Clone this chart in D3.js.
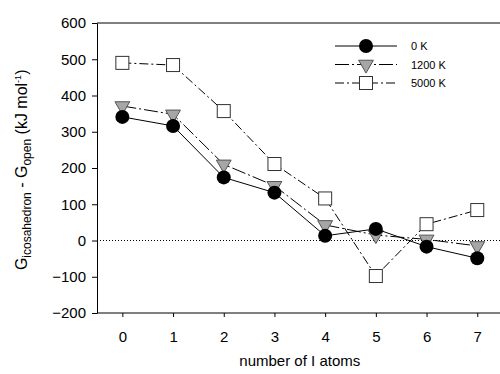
<!DOCTYPE html>
<html>
<head>
<meta charset="utf-8">
<script src="https://cdnjs.cloudflare.com/ajax/libs/d3/7.8.5/d3.min.js"></script>
<style>
  body { margin: 0; background: #fff; }
  svg { font-family: "Liberation Sans", Arial, sans-serif; }
</style>
</head>
<body>
<div id="chart"></div>
<script>
// values
const atoms = [0, 1, 2, 3, 4, 5, 6, 7];
const g0K = [341, 316, 174, 132, 13, 32, -17, -49];
const g1200K = [371, 348, 210, 151, 43, 15, 3, -15];
const g5000K = [490, 484, 357, 211, 116, -98, 45, 84];
const yTicks = [-200, -100, 0, 100, 200, 300, 400, 500, 600];
const seriesNames = ["0 K", "1200 K", "5000 K"];

const width = 500, height = 374;
const margin = { top: 23, right: 0, bottom: 61, left: 97 };

let svg = d3.select("#chart").append("svg")
    .attr("width", width)
    .attr("height", height);

let x = d3.scaleLinear()
    .domain([-0.5, 7.5])
    .range([margin.left, margin.left + 8 * 50.7]);

let y = d3.scaleLinear()
    .domain([-200, 600])
    .range([height - margin.bottom, margin.top]);

// top frame line
svg.append("line")
    .attr("x1", margin.left).attr("x2", width)
    .attr("y1", y(600)).attr("y2", y(600))
    .attr("stroke", "#000").attr("stroke-width", 1);

// zero reference
svg.append("line")
    .attr("x1", margin.left).attr("x2", width)
    .attr("y1", y(0)).attr("y2", y(0))
    .attr("stroke", "#000").attr("stroke-width", 1)
    .attr("stroke-dasharray", "1,2");

let xAxis = svg.append("g")
    .attr("transform", "translate(0," + y(-200) + ")")
    .call(d3.axisBottom(x).tickValues(atoms).tickSize(4).tickSizeOuter(0).tickPadding(14));
xAxis.select(".domain").attr("d", "M" + margin.left + ",0H" + width);

let yAxis = svg.append("g")
    .attr("transform", "translate(" + margin.left + ",0)")
    .call(d3.axisLeft(y).tickValues(yTicks).tickSize(5).tickSizeOuter(0).tickPadding(6));

svg.selectAll(".tick text").attr("font-size", 15).attr("fill", "#000")
    .attr("font-family", "Liberation Sans, Arial, sans-serif");

// axis titles
svg.append("text")
    .attr("x", x(3.5))
    .attr("y", 366)
    .attr("text-anchor", "middle")
    .attr("font-size", 15)
    .text("number of I atoms");

let ylab = svg.append("text")
    .attr("transform", "translate(27," + y(195) + ") rotate(-90)")
    .attr("text-anchor", "middle")
    .attr("font-size", 16);
ylab.append("tspan").text("G");
ylab.append("tspan").attr("font-size", 12).attr("dy", 4).text("icosahedron");
ylab.append("tspan").attr("dy", -4).text(" - G");
ylab.append("tspan").attr("font-size", 12).attr("dy", 4).text("open");
ylab.append("tspan").attr("dy", -4).text(" (kJ mol");
ylab.append("tspan").attr("font-size", 9).attr("dy", -6).text("-1");
ylab.append("tspan").attr("dy", 6).text(")");

const styles = [
    { data: g0K, dash: null, marker: "circle" },
    { data: g1200K, dash: "14,3,2,3", marker: "triangle" },
    { data: g5000K, dash: "9,3,2,3", marker: "square" }
];

let line = d3.line()
    .x((d, i) => x(atoms[i]))
    .y(d => y(d));

function drawMarker(g, type, cx, cy) {
    if (type === "circle") {
        g.append("circle").attr("cx", cx).attr("cy", cy).attr("r", 7)
            .attr("fill", "#000");
    } else if (type === "triangle") {
        g.append("path")
            .attr("d", d3.symbol().type(d3.symbolTriangle).size(95)())
            .attr("transform", "translate(" + cx + "," + cy + ") rotate(180)")
            .attr("fill", "#a6a6a6").attr("stroke", "#555").attr("stroke-width", 1);
    } else {
        g.append("rect").attr("x", cx - 6.5).attr("y", cy - 6.5)
            .attr("width", 13).attr("height", 13)
            .attr("fill", "#fff").attr("stroke", "#333").attr("stroke-width", 1);
    }
}

// draw 5000 K first, then 1200 K, then 0 K on top
[2, 1, 0].forEach(function (k) {
    let s = styles[k];
    let g = svg.append("g");
    g.append("path")
        .datum(s.data)
        .attr("d", line)
        .attr("fill", "none")
        .attr("stroke", "#000")
        .attr("stroke-width", 1)
        .attr("stroke-dasharray", s.dash);
    s.data.forEach(function (d, i) {
        drawMarker(g, s.marker, x(atoms[i]), y(d));
    });
});

// legend
let legend = svg.append("g");
seriesNames.forEach(function (name, k) {
    let ly = 46 + k * 18.5;
    legend.append("line")
        .attr("x1", 335).attr("x2", 397)
        .attr("y1", ly).attr("y2", ly)
        .attr("stroke", "#000").attr("stroke-width", 1)
        .attr("stroke-dasharray", styles[k].dash);
    drawMarker(legend, styles[k].marker, 366, ly);
    legend.append("text")
        .attr("x", 411).attr("y", ly + 4)
        .attr("font-size", 11)
        .text(name);
});
</script>
</body>
</html>
